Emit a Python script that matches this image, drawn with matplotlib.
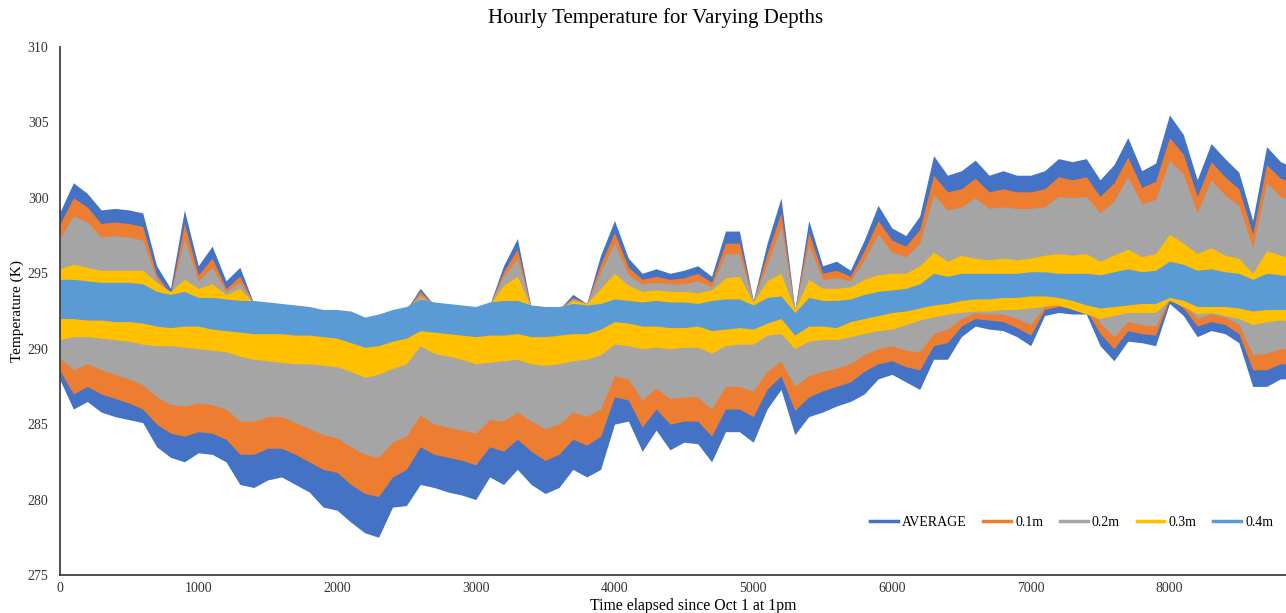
import matplotlib
matplotlib.use("Agg")
import matplotlib.pyplot as plt
from matplotlib.lines import Line2D
import numpy as np

plt.rcParams["font.family"] = ["Liberation Serif", "DejaVu Serif"]

# hours since Oct 1 1pm, sampled every 100 h
hours = np.arange(0, 9000, 100)

# upper / lower envelope of the hourly swing for each series (K)
avg_hi = [299.0, 301.0, 300.3, 299.2, 299.3, 299.2, 299.0, 295.5, 294.0, 299.2,
          295.5, 296.8, 294.5, 295.4, 293.0, 292.9, 292.8, 292.7, 292.6, 292.4,
          292.4, 292.3, 291.9, 292.1, 292.4, 292.6, 294.0, 292.9, 292.8, 292.7,
          292.6, 292.9, 295.5, 297.3, 292.7, 292.6, 292.6, 293.6, 293.0, 296.2,
          298.5, 296.0, 295.0, 295.3, 295.0, 295.2, 295.5, 294.8, 297.8, 297.8,
          293.2, 297.0, 300.0, 292.6, 298.5, 295.5, 295.8, 295.2, 297.2, 299.5,
          298.0, 297.5, 298.8, 302.8, 301.5, 301.8, 302.5, 301.5, 301.8, 301.5,
          301.5, 301.8, 302.6, 302.4, 302.6, 301.2, 302.2, 304.0, 301.8, 302.3,
          305.5, 304.2, 301.2, 303.6, 302.6, 301.7, 298.5, 303.4, 302.4, 302.0]
avg_lo = [288.0, 286.0, 286.5, 285.8, 285.5, 285.3, 285.1, 283.5, 282.8, 282.5,
          283.1, 283.0, 282.5, 281.0, 280.8, 281.3, 281.5, 281.0, 280.5, 279.5,
          279.3, 278.5, 277.8, 277.5, 279.5, 279.6, 281.0, 280.8, 280.5, 280.3,
          280.0, 281.5, 281.0, 282.0, 281.0, 280.4, 280.8, 282.0, 281.5, 282.0,
          285.0, 285.2, 283.2, 284.6, 283.3, 283.8, 283.7, 282.5, 284.5, 284.5,
          283.8, 286.0, 287.3, 284.3, 285.5, 285.8, 286.2, 286.5, 287.0, 288.0,
          288.3, 287.8, 287.3, 289.3, 289.3, 290.8, 291.5, 291.3, 291.2, 290.8,
          290.2, 292.2, 292.4, 292.3, 292.3, 290.2, 289.2, 290.5, 290.4, 290.2,
          293.0, 292.2, 290.8, 291.2, 291.0, 290.4, 287.5, 287.5, 288.0, 288.0]

d01_hi = [298.2, 300.0, 299.4, 298.3, 298.4, 298.3, 298.1, 294.9, 293.6, 298.3,
          294.9, 296.0, 294.0, 294.8, 293.0, 292.9, 292.8, 292.7, 292.6, 292.4,
          292.4, 292.3, 291.9, 292.1, 292.4, 292.6, 293.8, 292.9, 292.8, 292.7,
          292.6, 292.9, 295.1, 296.6, 292.7, 292.6, 292.6, 293.4, 293.0, 295.6,
          297.7, 295.4, 294.6, 294.8, 294.6, 294.7, 295.0, 294.4, 297.0, 297.0,
          293.2, 296.3, 299.0, 292.6, 297.7, 295.0, 295.2, 294.8, 296.5, 298.5,
          297.2, 296.8, 297.9, 301.5, 300.4, 300.6, 301.3, 300.4, 300.6, 300.4,
          300.4, 300.6, 301.4, 301.2, 301.4, 300.1, 301.0, 302.7, 300.7, 301.1,
          304.0, 302.9, 300.1, 302.4, 301.4, 300.6, 297.6, 302.2, 301.3, 301.0]
d01_lo = [288.6, 287.0, 287.5, 287.0, 286.7, 286.4, 286.0, 285.0, 284.4, 284.2,
          284.5, 284.4, 284.0, 283.0, 283.0, 283.4, 283.4, 283.0, 282.5, 282.0,
          281.8, 281.0, 280.4, 280.2, 281.5, 282.0, 283.5, 283.0, 282.8, 282.6,
          282.3, 283.5, 283.2, 284.0, 283.2, 282.6, 283.0, 284.0, 283.6, 284.2,
          286.8, 286.6, 284.8, 286.0, 285.0, 285.2, 285.2, 284.2, 286.0, 286.0,
          285.5, 287.3, 288.2, 285.9, 286.8, 287.2, 287.5, 287.8, 288.5, 289.0,
          289.2, 288.8, 288.6, 290.2, 290.4, 291.5, 292.0, 291.9, 291.8, 291.4,
          290.9, 292.6, 292.8, 292.7, 292.6, 291.0, 290.0, 291.2, 291.0, 290.9,
          293.3, 292.7, 291.5, 291.8, 291.6, 291.0, 288.6, 288.6, 289.0, 289.0]

d02_hi = [297.3, 298.8, 298.4, 297.4, 297.5, 297.4, 297.2, 294.6, 293.6, 297.3,
          294.5, 295.4, 293.8, 294.4, 293.0, 292.9, 292.8, 292.7, 292.6, 292.4,
          292.4, 292.3, 291.9, 292.1, 292.4, 292.6, 293.6, 292.9, 292.8, 292.7,
          292.6, 292.9, 294.8, 296.0, 292.7, 292.6, 292.6, 293.3, 293.0, 295.1,
          297.0, 294.9, 294.3, 294.4, 294.3, 294.3, 294.5, 294.1, 296.3, 296.3,
          293.2, 295.6, 298.1, 292.6, 296.9, 294.6, 294.7, 294.5, 295.9, 297.6,
          296.4, 296.1, 297.0, 300.2, 299.2, 299.4, 300.0, 299.3, 299.4, 299.3,
          299.3, 299.4, 300.1, 300.0, 300.1, 299.0, 299.8, 301.4, 299.6, 299.9,
          302.5, 301.6, 299.0, 301.2, 300.2, 299.5, 296.7, 301.0, 300.1, 299.8]
d02_lo = [289.4, 288.6, 289.0, 288.6, 288.3, 288.0, 287.6, 286.8, 286.3, 286.2,
          286.4, 286.3, 286.0, 285.2, 285.2, 285.5, 285.5, 285.1, 284.7, 284.3,
          284.1, 283.5, 283.0, 282.8, 283.8, 284.2, 285.6, 285.0, 284.8, 284.6,
          284.4, 285.3, 285.2, 285.8, 285.2, 284.7, 285.0, 285.8, 285.5, 286.0,
          288.2, 288.0, 286.6, 287.4, 286.7, 286.8, 286.8, 286.0, 287.5, 287.5,
          287.2, 288.5, 289.2, 287.5, 288.2, 288.5, 288.7, 289.0, 289.6, 290.0,
          290.2, 289.9, 289.8, 291.0, 291.3, 292.0, 292.4, 292.3, 292.3, 292.0,
          291.6, 292.8, 293.0, 292.9, 292.9, 291.7, 290.8, 291.8, 291.6, 291.5,
          293.4, 293.0, 292.0, 292.3, 292.1, 291.6, 289.6, 289.7, 290.0, 290.0]

d03_hi = [295.3, 295.6, 295.4, 295.2, 295.2, 295.2, 295.2, 294.4, 293.8, 294.6,
          294.0, 294.3, 293.6, 294.0, 293.0, 292.9, 292.8, 292.7, 292.6, 292.4,
          292.4, 292.3, 291.9, 292.1, 292.4, 292.6, 293.4, 292.9, 292.8, 292.7,
          292.6, 292.9, 294.2, 294.8, 292.7, 292.6, 292.6, 293.2, 293.0, 294.0,
          295.0, 294.2, 293.8, 293.9, 293.8, 293.8, 293.7, 293.9, 294.7, 294.8,
          293.1, 294.5, 295.0, 292.6, 294.6, 294.0, 294.0, 294.1, 294.6, 294.9,
          295.0, 295.0, 295.5, 296.4, 295.8, 296.2, 296.0, 295.9, 296.0, 295.9,
          296.0, 296.2, 296.3, 296.2, 296.3, 295.8, 296.2, 296.6, 296.1, 296.3,
          297.6, 297.0, 296.3, 296.7, 296.2, 296.0, 295.0, 296.5, 296.2, 296.0]
d03_lo = [290.6, 290.8, 290.8, 290.7, 290.6, 290.5, 290.3, 290.2, 290.2, 290.1,
          290.0, 289.9, 289.8, 289.5, 289.3, 289.2, 289.1, 289.0, 289.0, 288.9,
          288.8, 288.5, 288.1, 288.3, 288.7, 289.0, 290.2, 289.7, 289.5, 289.3,
          289.0, 289.1, 289.2, 289.3, 289.0, 288.9, 289.0, 289.2, 289.3, 289.6,
          290.3, 290.2, 290.0, 290.1, 290.0, 290.1, 290.1, 289.7, 290.2, 290.3,
          290.3, 290.9, 291.0, 290.0, 290.5, 290.6, 290.6, 290.8, 291.0, 291.2,
          291.3, 291.6, 291.9, 292.1, 292.3, 292.4, 292.5, 292.5, 292.6, 292.6,
          292.7, 292.8, 292.9, 292.6, 292.3, 292.0, 292.2, 292.4, 292.4, 292.4,
          293.2, 292.8, 292.3, 292.4, 292.2, 292.0, 291.6, 291.8, 291.9, 291.8]

d04_hi = [294.6, 294.6, 294.5, 294.4, 294.4, 294.4, 294.3, 293.8, 293.6, 293.8,
          293.4, 293.4, 293.3, 293.2, 293.2, 293.1, 293.0, 292.9, 292.8, 292.6,
          292.6, 292.5, 292.1, 292.3, 292.6, 292.8, 293.3, 293.1, 293.0, 292.9,
          292.8, 293.1, 293.2, 293.2, 292.9, 292.8, 292.8, 293.0, 292.9, 293.0,
          293.3, 293.2, 293.1, 293.2, 293.1, 293.1, 293.0, 293.2, 293.3, 293.3,
          292.9, 293.4, 293.5, 292.4, 293.4, 293.2, 293.2, 293.3, 293.6, 293.8,
          293.9, 294.0, 294.3, 295.0, 294.8, 295.0, 295.0, 295.0, 295.0, 295.0,
          295.1, 295.1, 295.0, 295.0, 295.0, 294.9, 295.1, 295.3, 295.1, 295.2,
          295.8, 295.6, 295.2, 295.3, 295.1, 295.0, 294.6, 295.0, 294.9, 294.8]
d04_lo = [292.0, 292.0, 291.9, 291.9, 291.8, 291.8, 291.7, 291.5, 291.4, 291.5,
          291.5, 291.3, 291.2, 291.1, 291.0, 291.0, 291.0, 290.9, 290.9, 290.8,
          290.7, 290.4, 290.1, 290.2, 290.5, 290.7, 291.2, 291.1, 291.0, 290.9,
          290.8, 290.9, 290.9, 291.0, 290.8, 290.8, 290.9, 291.0, 291.0, 291.3,
          291.8, 291.7, 291.5, 291.5, 291.4, 291.4, 291.5, 291.2, 291.3, 291.4,
          291.3, 291.7, 292.0, 290.9, 291.5, 291.5, 291.4, 291.8, 292.0, 292.2,
          292.4, 292.5, 292.7, 292.9, 293.0, 293.2, 293.3, 293.3, 293.4, 293.4,
          293.5, 293.5, 293.4, 293.2, 292.9, 292.7, 292.8, 292.9, 293.0, 293.0,
          293.4, 293.2, 292.8, 292.8, 292.8, 292.7, 292.5, 292.6, 292.6, 292.6]

labels = ["AVERAGE", "0.1m", "0.2m", "0.3m", "0.4m"]
colors = ["#4472C4", "#ED7D31", "#A5A5A5", "#FFC000", "#5B9BD5"]
bands = [(avg_lo, avg_hi), (d01_lo, d01_hi), (d02_lo, d02_hi),
         (d03_lo, d03_hi), (d04_lo, d04_hi)]

fig = plt.figure(figsize=(12.86, 6.13), dpi=100)
ax = fig.add_axes([59.5 / 1286, 1 - 575 / 613, 1 - 59.5 / 1286, (575 - 47) / 613])

# later series sit on top, so the shallow/deep order reads outside-in
for (lo, hi), c in zip(bands, colors):
    ax.fill_between(hours, lo, hi, color=c, linewidth=0)

ax.set_xlim(0, 8840)
ax.set_ylim(275, 310)
ax.set_xticks(range(0, 9000, 1000))
ax.set_yticks(range(275, 311, 5))
ax.tick_params(axis="y", length=0, labelsize=10, colors="#333333", pad=8)
ax.tick_params(axis="x", length=0, labelsize=10, colors="#333333", pad=5)
for s in ("top", "right"):
    ax.spines[s].set_visible(False)
for s in ("left", "bottom"):
    ax.spines[s].set_color("#404040")
    ax.spines[s].set_linewidth(1.3)

fig.text(656 / 1286, 1 - 18 / 613, "Hourly Temperature for Varying Depths",
         ha="center", va="center", fontsize=15)
fig.text(693 / 1286, 1 - 606 / 613, "Time elapsed since Oct 1 at 1pm",
         ha="center", va="center", fontsize=11.3)
fig.text(17 / 1286, 1 - 311 / 613, "Temperature (K)", rotation=90,
         ha="center", va="center", fontsize=11)

handles = [Line2D([], [], color=c, lw=2.5) for c in colors]
ax.legend(handles, labels, ncol=5, frameon=False, fontsize=10,
          loc="center left", bbox_to_anchor=(870 / 1286, 1 - 522 / 613),
          bbox_transform=fig.transFigure, handlelength=2.0,
          handletextpad=0.3, columnspacing=1.2, borderpad=0, borderaxespad=0)

fig.savefig("out.png", dpi=100)
